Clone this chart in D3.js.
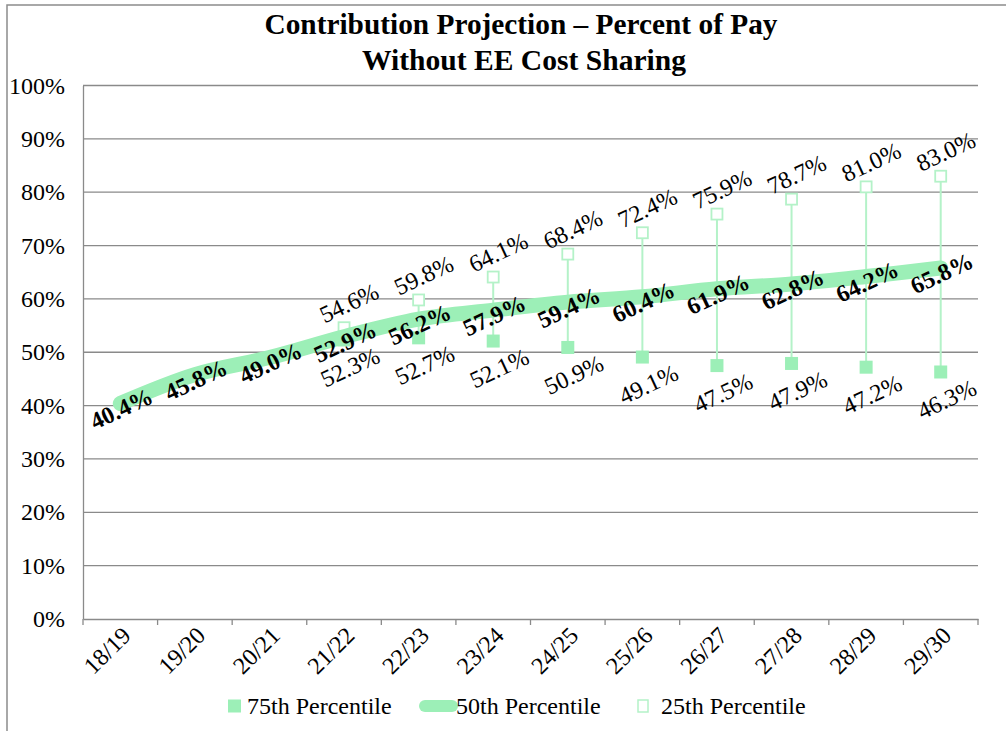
<!DOCTYPE html>
<html>
<head>
<meta charset="utf-8">
<script src="https://cdn.jsdelivr.net/npm/d3@7"></script>
<style>
  html, body { margin: 0; padding: 0; background: #fff; }
  svg { display: block; font-family: "Liberation Serif", "Times New Roman", serif; }
</style>
</head>
<body>
<svg id="chart" width="1006" height="731"></svg>
<script>
const categories = ["18/19","19/20","20/21","21/22","22/23","23/24","24/25","25/26","26/27","27/28","28/29","29/30"];
const p50 = [40.4, 45.8, 49.0, 52.9, 56.2, 57.9, 59.4, 60.4, 61.9, 62.8, 64.2, 65.8];
const p75 = [null, null, null, 52.3, 52.7, 52.1, 50.9, 49.1, 47.5, 47.9, 47.2, 46.3];
const p25 = [null, null, null, 54.6, 59.8, 64.1, 68.4, 72.4, 75.9, 78.7, 81.0, 83.0];
const yTicks = [0, 10, 20, 30, 40, 50, 60, 70, 80, 90, 100];
const titleLines = ["Contribution Projection \u2013 Percent of Pay", "Without EE Cost Sharing"];
const legendLabels = ["75th Percentile", "50th Percentile", "25th Percentile"];

(function () {
const GREEN = "#9CEFB7";
const LIGHT = "#B4F2C8";
const FS = 24;

const svg = d3.select("#chart");

// outer frame
svg.append("rect").attr("x", 7).attr("y", 5).attr("width", 1010).attr("height", 740)
  .attr("fill", "none").attr("stroke", "#8c8c8c").attr("stroke-width", 1.5);

const pLeft = 83, pRight = 978, pTop = 85.5, pBottom = 619;

const x = d3.scaleBand().domain(categories).range([pLeft, pRight]).padding(0);
const y = d3.scaleLinear().domain([0, 100]).range([pBottom, pTop]);
const cx = c => x(c) + x.bandwidth() / 2;

// title
const title = svg.append("g").attr("font-weight", "bold").attr("fill", "#000")
  .attr("text-anchor", "middle").attr("font-size", 30);
title.append("text").attr("x", 521).attr("y", 34).attr("textLength", 513)
  .attr("lengthAdjust", "spacingAndGlyphs").text(titleLines[0]);
title.append("text").attr("x", 524).attr("y", 70).attr("textLength", 324)
  .attr("lengthAdjust", "spacingAndGlyphs").text(titleLines[1]);

// gridlines
svg.append("g").selectAll("line").data(yTicks.filter(d => d > 0)).join("line")
  .attr("x1", pLeft).attr("x2", pRight)
  .attr("y1", d => y(d)).attr("y2", d => y(d))
  .attr("stroke", "#8a8a8a").attr("stroke-width", 1.3);

// y axis
const yAxis = d3.axisLeft(y).tickValues(yTicks).tickFormat(d => d + "%").tickSize(0).tickPadding(18);
const yg = svg.append("g").attr("transform", `translate(${pLeft},0)`).call(yAxis);
yg.select(".domain").attr("stroke", "#8a8a8a").attr("stroke-width", 1.3);
yg.selectAll("text").attr("font-size", FS).attr("font-family", "Liberation Serif").attr("fill", "#000").attr("dy", "0.32em");

// x axis
const xAxis = d3.axisBottom(x).tickSize(0).tickFormat("");
const xg = svg.append("g").attr("transform", `translate(0,${pBottom})`).call(xAxis);
xg.select(".domain").attr("stroke", "#8a8a8a").attr("stroke-width", 1.3);
// tick marks between categories
svg.append("g").selectAll("line").data(d3.range(categories.length + 1)).join("line")
  .attr("x1", i => pLeft + i * x.bandwidth()).attr("x2", i => pLeft + i * x.bandwidth())
  .attr("y1", pBottom).attr("y2", pBottom + 6)
  .attr("stroke", "#8a8a8a").attr("stroke-width", 1.3);
// x labels
svg.append("g").selectAll("text").data(categories).join("text")
  .attr("transform", d => `translate(${cx(d) + 6},${pBottom + 12}) rotate(-45)`)
  .attr("text-anchor", "end").attr("dy", "0.35em")
  .attr("font-size", FS).attr("fill", "#000").text(d => d);

// hi-low lines
const hl = categories.map((c, i) => ({c, lo: p75[i], hi: p25[i]})).filter(d => d.lo != null && d.hi != null);
svg.append("g").selectAll("line").data(hl).join("line")
  .attr("x1", d => cx(d.c)).attr("x2", d => cx(d.c))
  .attr("y1", d => y(d.lo)).attr("y2", d => y(d.hi))
  .attr("stroke", LIGHT).attr("stroke-width", 2);

// 75th markers (filled)
const d75 = categories.map((c, i) => ({c, v: p75[i]})).filter(d => d.v != null);
svg.append("g").selectAll("rect").data(d75).join("rect")
  .attr("x", d => cx(d.c) - 6.5).attr("y", d => y(d.v) - 6.5)
  .attr("width", 13).attr("height", 13).attr("fill", GREEN);

// 25th markers (hollow)
const d25 = categories.map((c, i) => ({c, v: p25[i]})).filter(d => d.v != null);
svg.append("g").selectAll("rect").data(d25).join("rect")
  .attr("x", d => cx(d.c) - 5.5).attr("y", d => y(d.v) - 5.5)
  .attr("width", 11).attr("height", 11).attr("fill", "#fff")
  .attr("stroke", LIGHT).attr("stroke-width", 1.8);

// 50th line
const d50 = categories.map((c, i) => ({c, v: p50[i]}));
const line = d3.line().x(d => cx(d.c)).y(d => y(d.v)).curve(d3.curveCatmullRom.alpha(0.5));
svg.append("path").datum(d50).attr("d", line)
  .attr("fill", "none").attr("stroke", GREEN).attr("stroke-width", 15)
  .attr("stroke-linecap", "round").attr("stroke-linejoin", "round");

const fmt = v => v.toFixed(1) + "%";
const ANG = -25;

// labels 25th (above)
svg.append("g").selectAll("text").data(d25).join("text")
  .attr("transform", d => `translate(${cx(d.c) + 5},${y(d.v) - 25}) rotate(${ANG})`)
  .attr("text-anchor", "middle").attr("dy", "0.35em")
  .attr("font-size", FS).attr("fill", "#000").text(d => fmt(d.v));

// labels 75th (below)
svg.append("g").selectAll("text").data(d75).join("text")
  .attr("transform", d => `translate(${cx(d.c) + 6},${y(d.v) + 27}) rotate(${ANG})`)
  .attr("text-anchor", "middle").attr("dy", "0.35em")
  .attr("font-size", FS).attr("fill", "#000").text(d => fmt(d.v));

// labels 50th (center, bold)
svg.append("g").selectAll("text").data(d50).join("text")
  .attr("transform", d => `translate(${cx(d.c) + 1},${y(d.v) + 5}) rotate(${ANG})`)
  .attr("text-anchor", "middle").attr("dy", "0.35em")
  .attr("font-size", FS).attr("font-weight", "bold").attr("fill", "#000").text(d => fmt(d.v));

// legend
const lg = svg.append("g");
const ly = 706;
lg.append("rect").attr("x", 228).attr("y", ly - 6.5).attr("width", 13).attr("height", 13).attr("fill", GREEN);
lg.append("text").attr("x", 247).attr("y", ly).attr("dy", "0.35em").attr("font-size", FS).text(legendLabels[0]);
lg.append("line").attr("x1", 425).attr("x2", 452).attr("y1", ly).attr("y2", ly)
  .attr("stroke", GREEN).attr("stroke-width", 12).attr("stroke-linecap", "round");
lg.append("text").attr("x", 456).attr("y", ly).attr("dy", "0.35em").attr("font-size", FS).text(legendLabels[1]);
lg.append("rect").attr("x", 638).attr("y", ly - 6).attr("width", 10).attr("height", 12)
  .attr("fill", "#fff").attr("stroke", LIGHT).attr("stroke-width", 1.5);
lg.append("text").attr("x", 661).attr("y", ly).attr("dy", "0.35em").attr("font-size", FS).text(legendLabels[2]);
})();
</script>
</body>
</html>
